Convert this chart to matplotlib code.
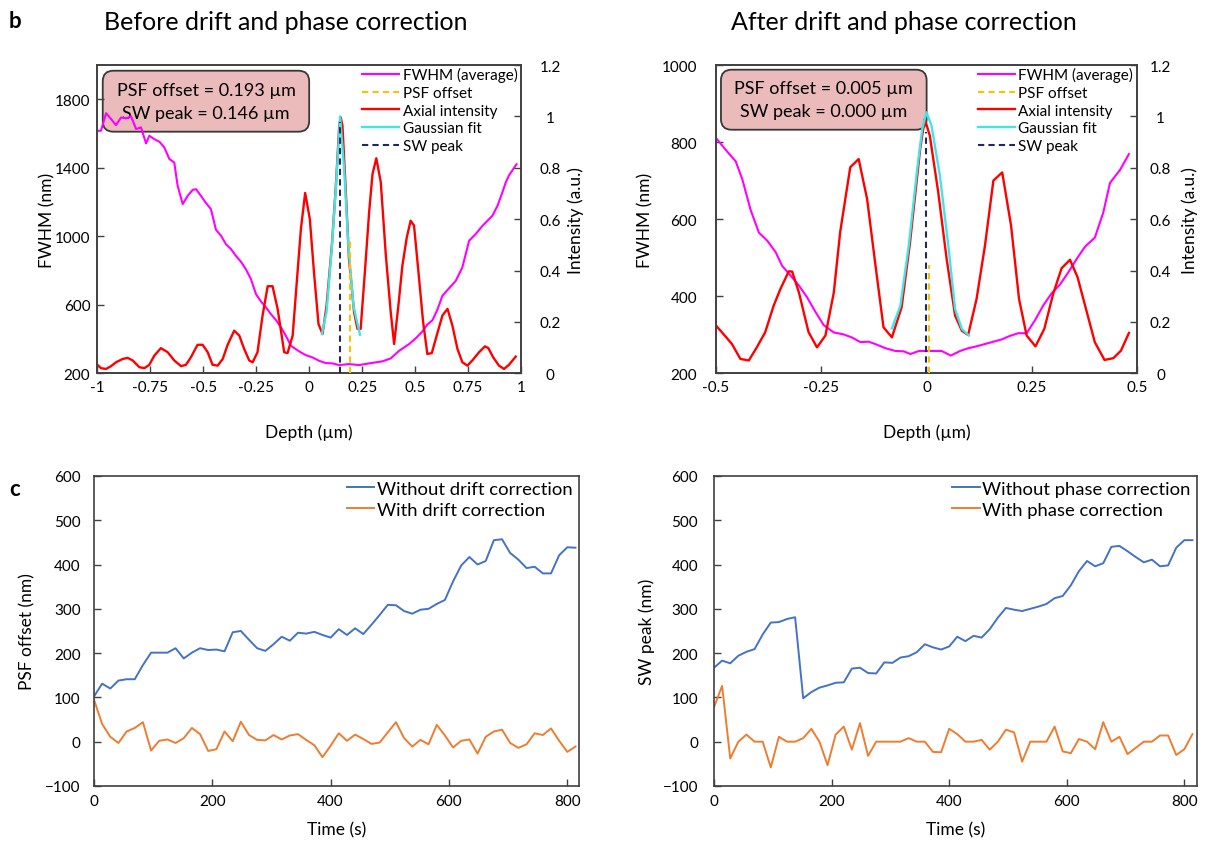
import numpy as np
import matplotlib.pyplot as plt
from matplotlib.patches import FancyBboxPatch

plt.rcParams['font.family'] = ['Lato', 'DejaVu Sans']

# ---- depth profiles (b) ----
# before correction
fwhm_before_depth = [-1.0, -0.983, -0.959, -0.935, -0.912, -0.888, -0.865, -0.841, -0.817, -0.794,
                     -0.770, -0.755, -0.731, -0.707, -0.684, -0.660, -0.637, -0.621, -0.597, -0.574,
                     -0.550, -0.534, -0.511, -0.487, -0.464, -0.440, -0.416, -0.393, -0.369, -0.346,
                     -0.322, -0.299, -0.275, -0.251, -0.228, -0.204, -0.181, -0.157, -0.133, -0.110,
                     -0.086, -0.063, -0.039, -0.016, 0.015, 0.047, 0.078, 0.110, 0.141, 0.188,
                     0.235, 0.283, 0.346, 0.385, 0.424, 0.472, 0.503, 0.535, 0.558, 0.582,
                     0.605, 0.629, 0.660, 0.692, 0.723, 0.755, 0.786, 0.818, 0.865, 0.889,
                     0.912, 0.928, 0.944, 0.979]
fwhm_before = [1616, 1616, 1719, 1684, 1649, 1694, 1688, 1700, 1626, 1636,
               1542, 1587, 1567, 1552, 1519, 1451, 1431, 1295, 1188, 1236,
               1271, 1275, 1236, 1194, 1159, 1038, 1003, 954, 925, 886,
               851, 808, 750, 662, 620, 585, 546, 511, 468, 419,
               361, 341, 322, 306, 293, 273, 260, 258, 248, 254,
               248, 258, 270, 287, 331, 371, 404, 445, 485, 510,
               571, 653, 696, 740, 818, 974, 1013, 1061, 1120, 1178,
               1256, 1315, 1357, 1421]

axial_before_depth = [-1.0, -0.983, -0.959, -0.935, -0.912, -0.880, -0.857, -0.833, -0.802, -0.778,
                      -0.755, -0.731, -0.700, -0.668, -0.637, -0.605, -0.582, -0.558, -0.527, -0.503,
                      -0.479, -0.456, -0.432, -0.408, -0.385, -0.354, -0.330, -0.307, -0.283, -0.267,
                      -0.244, -0.220, -0.196, -0.173, -0.149, -0.118, -0.102, -0.078, -0.055, -0.039,
                      -0.019, 0.003, 0.024, 0.044, 0.063, 0.082, 0.107, 0.126, 0.142, 0.149,
                      0.157, 0.170, 0.188, 0.212, 0.228, 0.243, 0.264, 0.283, 0.299, 0.317,
                      0.338, 0.362, 0.385, 0.401, 0.421, 0.440, 0.461, 0.479, 0.495, 0.516,
                      0.538, 0.558, 0.579, 0.602, 0.629, 0.653, 0.676, 0.700, 0.723, 0.747,
                      0.770, 0.802, 0.830, 0.846, 0.868, 0.896, 0.920, 0.943, 0.975]
axial_before = [0.033, 0.020, 0.017, 0.028, 0.043, 0.056, 0.060, 0.050, 0.024, 0.020,
                0.033, 0.069, 0.098, 0.082, 0.050, 0.028, 0.033, 0.063, 0.111, 0.111,
                0.082, 0.033, 0.030, 0.056, 0.111, 0.166, 0.147, 0.095, 0.050, 0.043,
                0.082, 0.225, 0.339, 0.339, 0.251, 0.082, 0.079, 0.147, 0.393, 0.562,
                0.702, 0.601, 0.380, 0.192, 0.153, 0.263, 0.497, 0.730, 0.964, 0.996,
                0.964, 0.756, 0.445, 0.238, 0.173, 0.173, 0.406, 0.627, 0.776, 0.837,
                0.744, 0.458, 0.238, 0.114, 0.263, 0.419, 0.530, 0.594, 0.575, 0.393,
                0.199, 0.075, 0.079, 0.147, 0.225, 0.251, 0.186, 0.095, 0.043, 0.030,
                0.050, 0.082, 0.105, 0.098, 0.063, 0.030, 0.017, 0.033, 0.065]

gauss_before_depth = [0.060, 0.082, 0.107, 0.126, 0.146, 0.165, 0.185, 0.209, 0.240]
gauss_before = [0.153, 0.238, 0.490, 0.720, 1.0, 0.795, 0.497, 0.263, 0.150]

psf_offset_before = 0.193
sw_peak_before = 0.146
psf_line_top_before = 0.53
sw_line_top_before = 0.98

# after correction
fwhm_after_depth = [-0.497, -0.477, -0.453, -0.437, -0.418, -0.398, -0.378, -0.358, -0.343, -0.323,
                    -0.303, -0.284, -0.264, -0.244, -0.220, -0.197, -0.177, -0.157, -0.137, -0.117,
                    -0.097, -0.074, -0.054, -0.038, -0.018, -0.004, 0.016, 0.036, 0.058, 0.080,
                    0.099, 0.119, 0.139, 0.159, 0.179, 0.198, 0.218, 0.238, 0.258, 0.278,
                    0.297, 0.317, 0.337, 0.357, 0.377, 0.400, 0.420, 0.436, 0.460, 0.481]
fwhm_after = [807, 780, 750, 702, 625, 565, 544, 514, 479, 454,
              428, 398, 360, 325, 306, 301, 293, 281, 282, 274,
              265, 258, 257, 250, 258, 258, 258, 258, 246, 258,
              265, 270, 276, 282, 288, 297, 304, 304, 338, 377,
              407, 430, 462, 497, 529, 552, 617, 694, 728, 769]

axial_after_depth = [-0.500, -0.486, -0.462, -0.442, -0.422, -0.403, -0.383, -0.363, -0.347, -0.327,
                     -0.319, -0.303, -0.280, -0.260, -0.240, -0.220, -0.205, -0.181, -0.161, -0.141,
                     -0.121, -0.102, -0.082, -0.059, -0.039, -0.015, -0.004, 0.008, 0.028, 0.048,
                     0.068, 0.084, 0.099, 0.119, 0.139, 0.159, 0.180, 0.201, 0.220, 0.238,
                     0.259, 0.280, 0.301, 0.321, 0.341, 0.359, 0.381, 0.400, 0.423, 0.444,
                     0.462, 0.481]
axial_after = [0.186, 0.160, 0.114, 0.056, 0.050, 0.101, 0.160, 0.263, 0.328, 0.397,
               0.396, 0.315, 0.160, 0.101, 0.147, 0.315, 0.549, 0.802, 0.834, 0.679,
               0.419, 0.179, 0.140, 0.257, 0.510, 0.873, 0.990, 0.925, 0.705, 0.445,
               0.225, 0.166, 0.149, 0.289, 0.497, 0.750, 0.782, 0.575, 0.289, 0.147,
               0.105, 0.173, 0.309, 0.409, 0.442, 0.374, 0.238, 0.121, 0.052, 0.059,
               0.088, 0.157]

gauss_after_depth = [-0.082, -0.062, -0.042, -0.022, -0.010, 0.0, 0.012, 0.032, 0.052, 0.068, 0.084, 0.101]
gauss_after = [0.175, 0.263, 0.497, 0.795, 0.951, 1.016, 0.964, 0.769, 0.497, 0.251, 0.173, 0.147]

psf_offset_after = 0.005
sw_peak_after = 0.000
psf_line_top_after = 0.42
sw_line_top_after = 0.94

# ---- drift over time (c) ----
frame_interval_s = 13.8
drift_without = [102, 131, 120, 138, 141, 141, 173, 201, 201, 201,
                 211, 188, 201, 211, 207, 208, 204, 247, 250, 230,
                 211, 205, 220, 237, 228, 246, 244, 248, 241, 235,
                 254, 241, 256, 243, 264, 286, 309, 308, 295, 289,
                 298, 300, 311, 320, 362, 398, 417, 400, 408, 455,
                 457, 426, 411, 392, 395, 380, 380, 421, 439, 438]
drift_with = [95, 40, 11, -3, 23, 31, 44, -20, 2, 5,
              -3, 8, 31, 17, -21, -17, 23, 1, 45, 15,
              4, 3, 15, 5, 14, 17, 4, -8, -35, -9,
              19, 2, 16, 6, -5, -2, 21, 44, 8, -11,
              4, -6, 38, 14, -13, 2, 5, -27, 11, 23,
              27, -3, -14, -6, 19, 15, 30, 2, -23, -11]
phase_without = [167, 183, 177, 194, 203, 209, 242, 269, 270, 277,
                 281, 98, 112, 122, 127, 133, 134, 165, 167, 155,
                 154, 179, 178, 190, 193, 202, 220, 213, 208, 215,
                 237, 227, 239, 235, 254, 280, 302, 298, 295, 300,
                 305, 311, 324, 329, 353, 385, 408, 396, 403, 440,
                 442, 430, 417, 405, 411, 396, 398, 438, 455, 455]
phase_with = [78, 126, -38, 0, 16, 0, 0, -58, 11, 0,
              0, 8, 29, 0, -53, 16, 34, -18, 42, -32,
              0, 0, 0, 0, 8, 0, 0, -23, -24, 29,
              17, 0, 0, 4, -18, 0, 27, 21, -45, 0,
              0, 0, 34, -22, -26, 6, 0, -17, 44, 0,
              11, -28, -14, 0, 0, 14, 14, -30, -17, 17]
time_s = frame_interval_s * np.arange(len(drift_without))

EDGE = '#404040'
TICK_FS = 11
LABEL_FS = 12.5


def frame(ax):
    for s in ax.spines.values():
        s.set_color(EDGE)
        s.set_linewidth(1.2)


def depth_panel(ax, xlim, xticks, xticklabels, ylim, yticks, left_pad, right_pad,
                fwhm_d, fwhm, ax_d, axial, g_d, gauss, psf, psf_top, sw, sw_top,
                ylab_x, ylab2_x, box, aspect):
    ax2 = ax.twinx()
    frame(ax)
    frame(ax2)
    ax.set_zorder(1)
    ax2.set_zorder(2)
    ax.patch.set_visible(False)

    l_fwhm, = ax.plot(fwhm_d, fwhm, color='#FF00FF', lw=1.5, zorder=3, label='FWHM (average)')
    l_ax, = ax2.plot(ax_d, axial, color='#FF0000', lw=1.7, zorder=2, label='Axial intensity')
    l_g, = ax2.plot(g_d, gauss, color='#3FE6E6', lw=1.7, zorder=3, label='Gaussian fit')
    l_psf, = ax2.plot([psf, psf], [0, psf_top], color='#FFC000', lw=1.5, ls=(0, (3, 2)),
                      zorder=4, label='PSF offset')
    l_sw, = ax2.plot([sw, sw], [0, sw_top], color='#1F2A5A', lw=1.5, ls=(0, (3, 2)),
                     zorder=5, label='SW peak')

    ax.set_xlim(*xlim)
    ax.set_ylim(*ylim)
    ax2.set_ylim(0, 1.2)
    ax.set_xticks(xticks)
    ax.set_xticklabels(xticklabels)
    ax.set_yticks(yticks)
    ax.set_yticklabels([str(v) for v in yticks])
    ax2.set_yticks([0, 0.2, 0.4, 0.6, 0.8, 1.0, 1.2])
    ax2.set_yticklabels(['0', '0.2', '0.4', '0.6', '0.8', '1', '1.2'])

    ax.tick_params(axis='x', direction='in', length=5, width=1, color=EDGE, labelsize=TICK_FS, pad=5)
    ax.tick_params(axis='y', direction='in', length=5, width=1, color=EDGE, labelsize=TICK_FS, pad=left_pad)
    ax2.tick_params(axis='y', direction='in', length=5, width=1, color=EDGE, labelsize=TICK_FS, pad=right_pad)
    for lab in ax2.get_yticklabels():
        lab.set_horizontalalignment('center')

    ax.set_xlabel('Depth (µm)', fontsize=LABEL_FS)
    ax.xaxis.set_label_coords(0.5, -0.162)
    ax.set_ylabel('FWHM (nm)', fontsize=LABEL_FS)
    ax.yaxis.set_label_coords(ylab_x, 0.5)
    ax2.set_ylabel('Intensity (a.u.)', fontsize=LABEL_FS)
    ax2.yaxis.set_label_coords(ylab2_x, 0.5)

    # rounded value box behind the curves
    x0, y0, x1, y1 = box
    ax.add_patch(FancyBboxPatch((x0, y0), x1 - x0, y1 - y0, transform=ax.transAxes,
                                boxstyle='round,pad=0,rounding_size=0.025', mutation_aspect=aspect,
                                fc='#EBBBBB', ec='#383838', lw=1.3, zorder=1))
    ax.text((x0 + x1) / 2, (y0 + y1) / 2, f'PSF offset = {psf:.3f} µm\nSW peak = {sw:.3f} µm',
            transform=ax.transAxes, ha='center', va='center', fontsize=13, linespacing=1.55,
            zorder=1.5)

    ax2.legend([l_fwhm, l_psf, l_ax, l_g, l_sw],
               ['FWHM (average)', 'PSF offset', 'Axial intensity', 'Gaussian fit', 'SW peak'],
               loc='upper right', bbox_to_anchor=(0.997, 1.0), frameon=False, fontsize=11,
               handlelength=2.42, handletextpad=0.26, labelspacing=0.24, borderaxespad=0,
               borderpad=0.15)


def time_panel(ax, xmax, without, with_, lab_without, lab_with, ylabel, left_pad, ylab_x):
    frame(ax)
    ax.plot(time_s, without, color='#4472C4', lw=1.4, label=lab_without)
    ax.plot(time_s, with_, color='#ED7D31', lw=1.4, label=lab_with)
    ax.set_xlim(0, xmax)
    ax.set_ylim(-100, 600)
    ax.set_xticks([0, 200, 400, 600, 800])
    ax.set_yticks(range(-100, 601, 100))
    ax.tick_params(axis='x', direction='in', length=5, width=1, color=EDGE, labelsize=TICK_FS, pad=5.5)
    ax.tick_params(axis='y', direction='in', length=5, width=1, color=EDGE, labelsize=TICK_FS, pad=left_pad)
    ax.set_xlabel('Time (s)', fontsize=LABEL_FS)
    ax.xaxis.set_label_coords(0.5, -0.113)
    ax.set_ylabel(ylabel, fontsize=LABEL_FS)
    ax.yaxis.set_label_coords(ylab_x, 0.5)
    ax.legend(loc='upper right', bbox_to_anchor=(0.99, 0.99), frameon=False, fontsize=13.3,
              handlelength=1.5, handletextpad=0.12, labelspacing=0.27, borderaxespad=0, borderpad=0.1)


fig = plt.figure(figsize=(12.17, 8.54), dpi=100)

ax_b1 = fig.add_axes([0.0800, 0.5617, 0.3481, 0.3610])
ax_b2 = fig.add_axes([0.5883, 0.5617, 0.3459, 0.3610])
ax_c1 = fig.add_axes([0.0772, 0.0785, 0.3985, 0.3630])
ax_c2 = fig.add_axes([0.5867, 0.0785, 0.3969, 0.3630])

depth_panel(ax_b1, (-1, 1), [-1, -0.75, -0.5, -0.25, 0, 0.25, 0.5, 0.75, 1],
            ['-1', '-0.75', '-0.5', '-0.25', '0', '0.25', '0.5', '0.75', '1'],
            (200, 2000), [200, 600, 1000, 1400, 1800], 5, 21,
            fwhm_before_depth, fwhm_before, axial_before_depth, axial_before,
            gauss_before_depth, gauss_before, psf_offset_before, psf_line_top_before,
            sw_peak_before, sw_line_top_before, -0.0985, 1.11,
            (0.0127, 0.7837, 0.500, 0.9815), 1.375)
depth_panel(ax_b2, (-0.5, 0.5), [-0.5, -0.25, 0, 0.25, 0.5],
            ['-0.5', '-0.25', '0', '0.25', '0.5'],
            (200, 1000), [200, 400, 600, 800, 1000], 13.5, 17,
            fwhm_after_depth, fwhm_after, axial_after_depth, axial_after,
            gauss_after_depth, gauss_after, psf_offset_after, psf_line_top_after,
            sw_peak_after, sw_line_top_after, -0.148, 1.105,
            (0.0119, 0.7901, 0.5004, 0.9848), 1.366)

time_panel(ax_c1, 820, drift_without, drift_with, 'Without drift correction',
           'With drift correction', 'PSF offset (nm)', 9.5, -0.1206)
time_panel(ax_c2, 822, phase_without, phase_with, 'Without phase correction',
           'With phase correction', 'SW peak (nm)', 11.5, -0.123)

fig.text(286 / 1217, 1 - 22 / 854, 'Before drift and phase correction', fontsize=18,
         ha='center', va='center')
fig.text(904 / 1217, 1 - 22 / 854, 'After drift and phase correction', fontsize=18,
         ha='center', va='center')
fig.text(15 / 1217, 1 - 22 / 854, 'b', fontsize=16, fontweight='bold', ha='center', va='center')
fig.text(15 / 1217, 1 - 490 / 854, 'c', fontsize=16, fontweight='bold', ha='center', va='center')

fig.savefig('out.png', dpi=100)
